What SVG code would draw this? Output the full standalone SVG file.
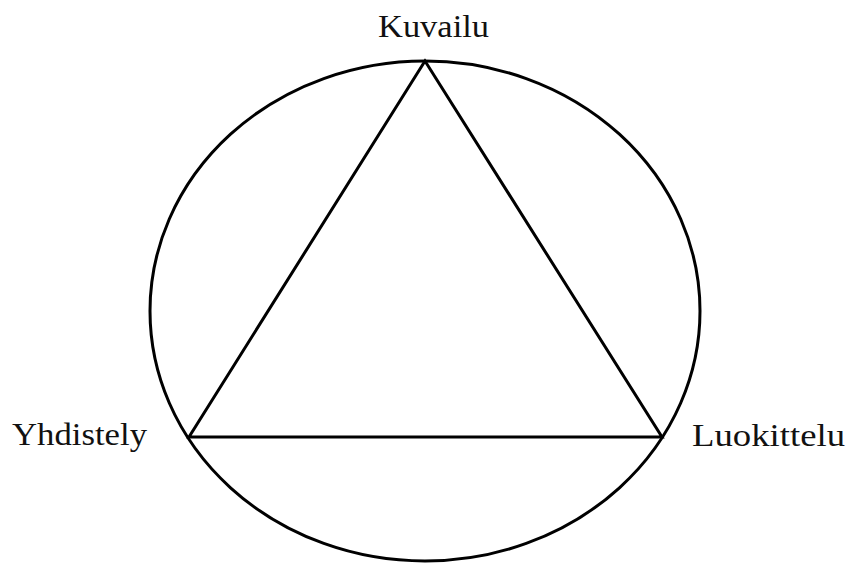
<svg xmlns="http://www.w3.org/2000/svg" width="851" height="563" viewBox="0 0 851 563">
<style>
.s{fill:none;stroke:#000;stroke-width:3}
.t{font-family:"Liberation Serif","DejaVu Serif",serif;font-size:32px;fill:#111}
</style>
<rect width="851" height="563" fill="#fff"/>
<g id="connectors">
<ellipse class="s" cx="425" cy="311" rx="275" ry="250"/>
<path class="s" d="M425 61 L189 437 L662 437 Z" stroke-linejoin="miter"/>
</g>
<g id="kuvailu"><text class="t" x="378" y="37" textLength="111" lengthAdjust="spacingAndGlyphs">Kuvailu</text></g>
<g id="yhdistely"><text class="t" x="12" y="445" textLength="135" lengthAdjust="spacingAndGlyphs">Yhdistely</text></g>
<g id="luokittelu"><text class="t" x="692" y="446" textLength="153" lengthAdjust="spacingAndGlyphs">Luokittelu</text></g>
</svg>
